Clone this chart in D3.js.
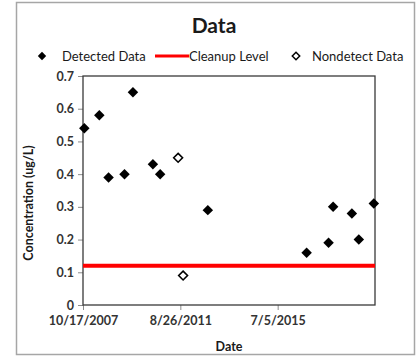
<!DOCTYPE html>
<html lang="en">
<head>
<meta charset="utf-8" />
<title>Data</title>
<script src="https://d3js.org/d3.v7.min.js"></script>
<style>
  body { margin: 0; background: #fff; }
  text { font-family: Lato, "Open Sans", sans-serif; fill: #1a1a1a; }
</style>
</head>
<body>
<div id="myDiv"></div>
<script>
// detected samples (date, concentration ug/L)
var detectedDates = ["11/5/2007", "6/9/2008", "10/21/2008", "6/9/2009", "10/9/2009", "7/25/2010",
                     "11/7/2010", "9/27/2012", "8/27/2016", "7/11/2017", "9/15/2017", "6/13/2018",
                     "9/22/2018", "4/27/2019"];
var detectedValues = [0.54, 0.58, 0.39, 0.40, 0.65, 0.43, 0.40, 0.29, 0.16, 0.19, 0.30, 0.28, 0.20, 0.31];

// nondetect samples
var nondetectDates = ["7/25/2011", "10/5/2011"];
var nondetectValues = [0.45, 0.09];

var cleanupLevel = 0.12;

var xTickLabels = ["10/17/2007", "8/26/2011", "7/5/2015"];
var yTicks = [0, 0.1, 0.2, 0.3, 0.4, 0.5, 0.6, 0.7];

var parseDate = d3.timeParse("%m/%d/%Y");
var fmt = d3.timeFormat("%-m/%-d/%Y");

var width = 417, height = 360;
// plot area edges (note: "top" is reserved on window, so use other names)
var plotLeft = 83, plotRight = 375, plotTop = 76, plotBottom = 305;

var svg = d3.select("#myDiv").append("svg")
    .attr("width", width)
    .attr("height", height);

// outer chart frame
svg.append("rect")
    .attr("x", 16.5).attr("y", 2.5)
    .attr("width", 398).attr("height", 352)
    .attr("fill", "#fff")
    .attr("stroke", "#a6a6a6")
    .attr("stroke-width", 1.5);

// x domain: three major units of 1409 days from the first tick
var xStart = parseDate("10/17/2007");
var xEnd = d3.timeDay.offset(xStart, 1409 * 3);

var xScale = d3.scaleTime().domain([xStart, xEnd]).range([plotLeft, plotRight]);
var yScale = d3.scaleLinear().domain([0, 0.7]).range([plotBottom, plotTop]);

var xAxis = d3.axisBottom(xScale)
    .tickValues(xTickLabels.map(parseDate))
    .tickFormat(fmt)
    .tickSize(5);
var yAxis = d3.axisLeft(yScale)
    .tickValues(yTicks)
    .tickFormat(function(d){ return d === 0 ? "0" : d3.format(".1f")(d); })
    .tickSize(5);

var gx = svg.append("g")
    .attr("transform", "translate(0," + plotBottom + ")")
    .call(xAxis);
gx.select(".domain").remove();
gx.selectAll("line").attr("stroke", "#8c8c8c");
gx.selectAll("text")
    .attr("y", 11)
    .style("font-size", "12.5px")
    .style("font-weight", "bold")
    .style("fill", "#333");

var gy = svg.append("g")
    .attr("transform", "translate(" + plotLeft + ",0)")
    .call(yAxis);
gy.select(".domain").remove();
gy.selectAll("line").attr("stroke", "#8c8c8c");
gy.selectAll("text")
    .attr("x", -9)
    .style("font-size", "12.5px")
    .style("font-weight", "bold")
    .style("fill", "#333");

// plot area border
svg.append("rect")
    .attr("x", plotLeft).attr("y", plotTop)
    .attr("width", plotRight - plotLeft).attr("height", plotBottom - plotTop)
    .attr("fill", "none")
    .attr("stroke", "#3a3a3a")
    .attr("stroke-width", 1.3);

// cleanup level line
svg.append("line")
    .attr("x1", xScale(xStart)).attr("x2", xScale(xEnd))
    .attr("y1", yScale(cleanupLevel)).attr("y2", yScale(cleanupLevel))
    .attr("stroke", "#ff0000")
    .attr("stroke-width", 4);

var diamond = d3.symbol().type(d3.symbolDiamond2);

// detected points
svg.selectAll("path.detected")
    .data(detectedDates)
    .enter()
    .append("path")
    .attr("class", "detected")
    .attr("d", diamond.size(70)())
    .attr("transform", function(d, i){
        return "translate(" + xScale(parseDate(d)) + "," + yScale(detectedValues[i]) + ")";
    })
    .attr("fill", "#000");

// nondetect points
svg.selectAll("path.nondetect")
    .data(nondetectDates)
    .enter()
    .append("path")
    .attr("class", "nondetect")
    .attr("d", diamond.size(50)())
    .attr("transform", function(d, i){
        return "translate(" + xScale(parseDate(d)) + "," + yScale(nondetectValues[i]) + ")";
    })
    .attr("fill", "#fff")
    .attr("stroke", "#000")
    .attr("stroke-width", 1.6);

// title
svg.append("text")
    .attr("x", 214).attr("y", 33)
    .attr("text-anchor", "middle")
    .style("font-size", "21px")
    .style("font-weight", "bold")
    .text("Data");

// legend
var legend = svg.append("g").attr("transform", "translate(0,56)");
legend.append("path")
    .attr("d", diamond.size(45)())
    .attr("transform", "translate(42,0)")
    .attr("fill", "#000");
legend.append("text").attr("x", 62).attr("y", 4.5)
    .style("font-size", "13px").text("Detected Data");
legend.append("line")
    .attr("x1", 155).attr("x2", 189).attr("y1", 0).attr("y2", 0)
    .attr("stroke", "#ff0000").attr("stroke-width", 3);
legend.append("text").attr("x", 189).attr("y", 4.5)
    .style("font-size", "13px").text("Cleanup Level");
legend.append("path")
    .attr("d", diamond.size(35)())
    .attr("transform", "translate(296,0)")
    .attr("fill", "#fff").attr("stroke", "#000").attr("stroke-width", 1.5);
legend.append("text").attr("x", 312).attr("y", 4.5)
    .style("font-size", "13px").text("Nondetect Data");

// axis titles
svg.append("text")
    .attr("x", 229).attr("y", 351)
    .attr("text-anchor", "middle")
    .style("font-size", "12.5px")
    .style("font-weight", "bold")
    .text("Date");

svg.append("text")
    .attr("transform", "translate(33,203) rotate(-90)")
    .attr("text-anchor", "middle")
    .style("font-size", "12.5px")
    .style("font-weight", "bold")
    .text("Concentration (ug/L)");
</script>
</body>
</html>
